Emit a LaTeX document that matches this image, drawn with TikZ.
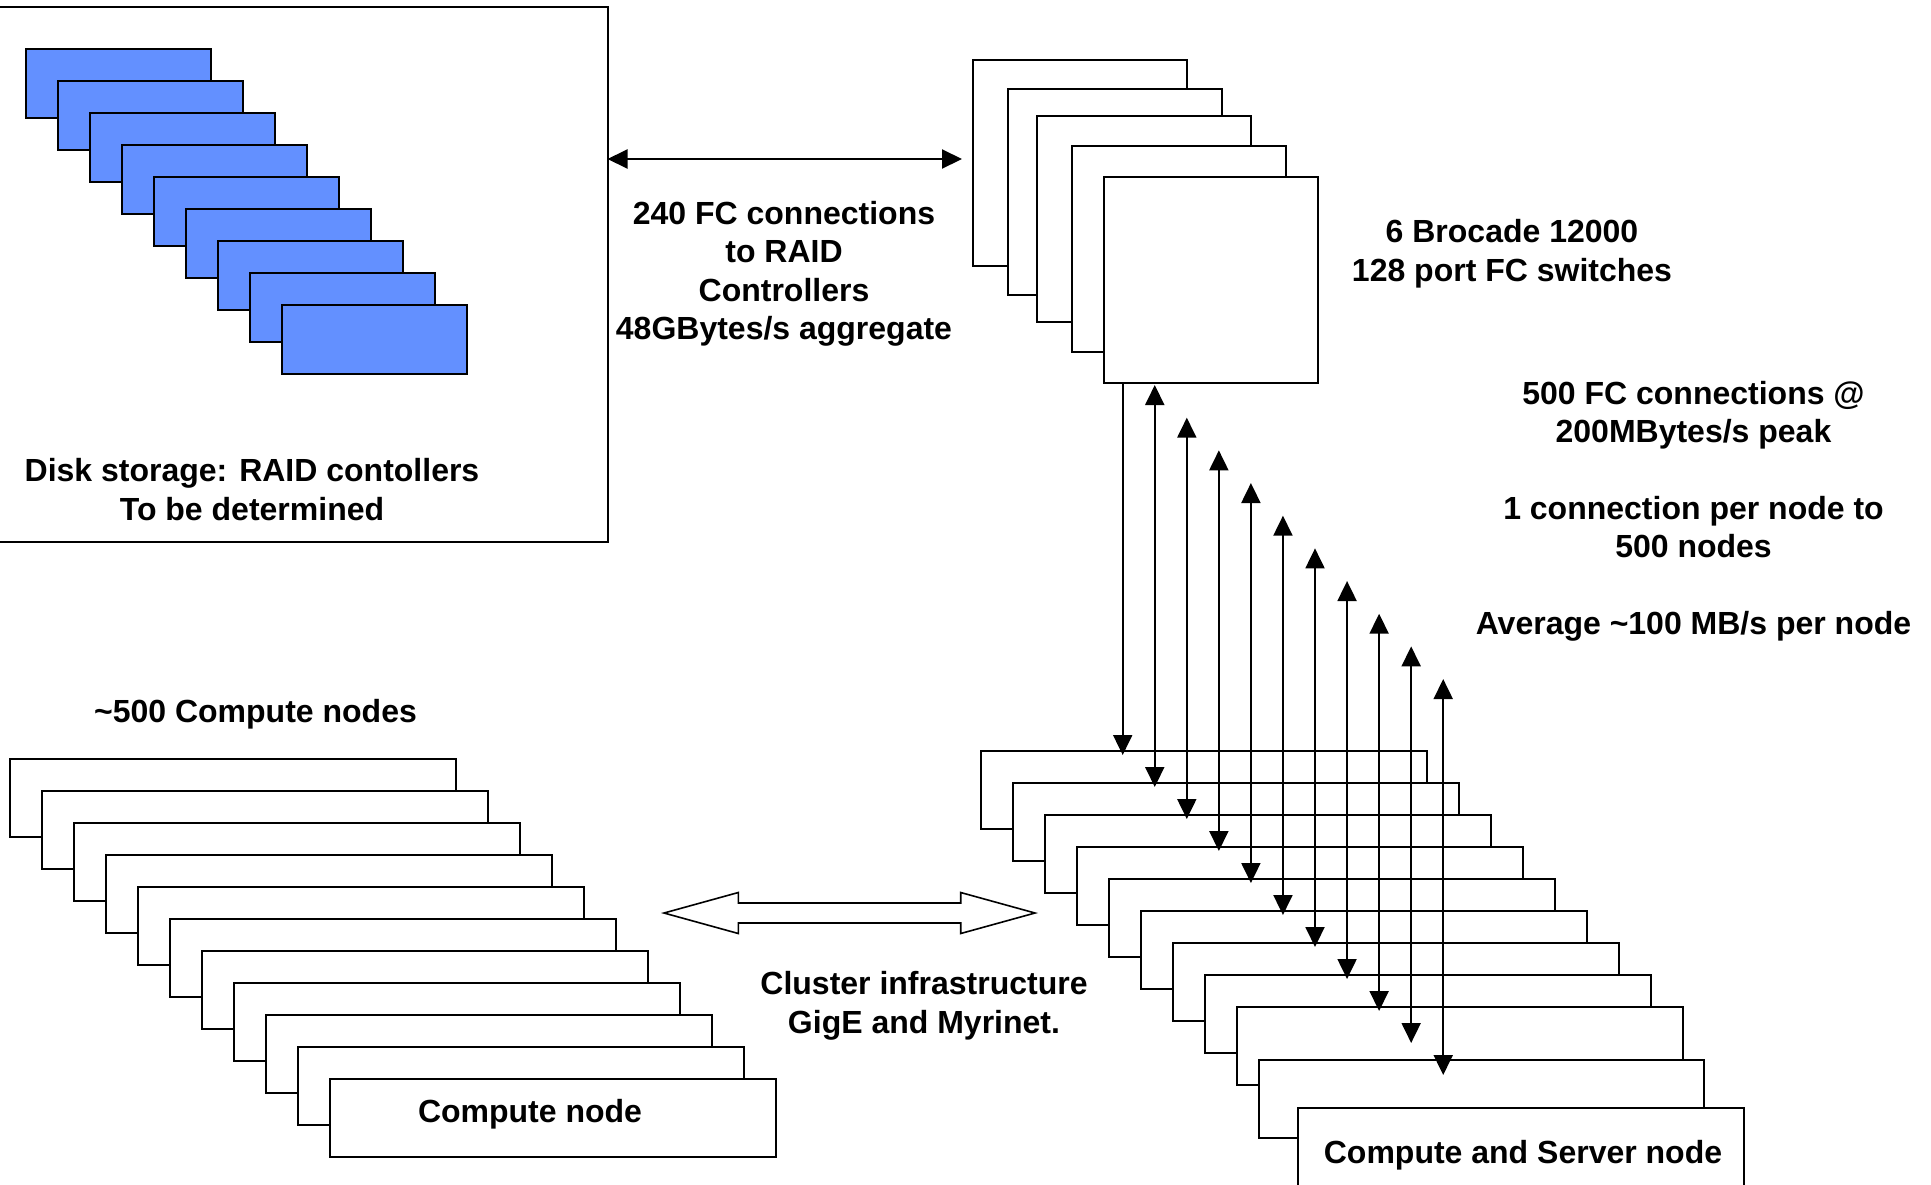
\documentclass[tikz,border=0pt]{standalone}
\usepackage{fontspec}
\setmainfont{Liberation Sans}
\usetikzlibrary{arrows.meta}
\definecolor{diskblue}{RGB}{99,144,255}
\begin{document}
\begin{tikzpicture}[x=0.5pt,y=-0.5pt,
  every node/.style={inner sep=0pt,outer sep=0pt},
  card/.style={draw=black,line width=1pt,fill=white,rectangle,anchor=north west},
  diskcard/.style={card,fill=diskblue,minimum width=92.3pt,minimum height=34.4pt},
  swcard/.style={card,minimum width=106.9pt,minimum height=102.9pt},
  nodecard/.style={card,minimum width=222.75pt,minimum height=38.9pt},
  txt/.style={font=\bfseries\fontsize{16pt}{19.2pt}\selectfont,align=center,anchor=base},
  fc/.style={line width=1pt,{Triangle[length=10pt,width=9.5pt]}-{Triangle[length=10pt,width=9.5pt]}},
  fcdown/.style={line width=1pt,-{Triangle[length=10pt,width=9.5pt]}},
]
\useasboundingbox (0,0) rectangle (1931,1184);
\fill[white] (0,0) rectangle (1931,1184);

% disk storage
\node[card,minimum width=304.75pt,minimum height=267.5pt] (disk) at (-2,7) {};
\foreach \i in {0,...,8}
  \node[diskcard] (b\i) at ({26.1+32*\i},{49.3+32*\i}) {};

% switches
\foreach \i/\x/\y in {1/973.3/60, 2/1008.3/89.3, 3/1037.3/116.3, 4/1072/145.7, 5/1104/177}
  \node[swcard] (sw\i) at (\x,\y) {};

% compute nodes
\foreach \i in {0,...,10}
  \node[nodecard] (c\i) at ({10.2+32*\i},{759+32*\i}) {};

% compute and server nodes
\foreach \i in {0,...,8}
  \node[nodecard] (s\i) at ({981.4+32*\i},{750.7+32*\i}) {};
\node[nodecard] (s9) at (1258.5,1060) {};
\node[nodecard] (s10) at (1298.3,1108.3) {};

% FC link disk <-> switches
\coordinate (fcR) at (962,159);
\draw[fc] (disk.east |- fcR) -- (fcR);

% FC links switches <-> nodes
\coordinate (u0) at (1122.7,382.7);
\coordinate (d0) at (1122.7,755);
\draw[fcdown] (u0) -- (d0);
\foreach \k in {1,...,10} {
  \coordinate (u\k) at ({1122.7+32.05*\k},{385+32.67*(\k-1)});
  \coordinate (d\k) at ({1122.7+32.05*\k},{755+32*\k});
  \draw[fc] (u\k) -- (d\k);
}

% cluster infrastructure block arrow
\draw[line width=0.8pt,fill=white] (664,913) -- (738.3,892.5) -- (738.3,903) -- (960.7,903)
  -- (960.7,892.5) -- (1035,913) -- (960.7,933.5) -- (960.7,923) -- (738.3,923)
  -- (738.3,933.5) -- cycle;

% texts (anchor = baseline of last line)
\node[txt] (disklbl) at (252,520) {Disk storage: RAID contollers\\To be determined};
\node[txt] (fclbl) at (784,339.5) {240 FC connections\\to RAID\\Controllers\\48GBytes/s aggregate};
\node[txt] (swlbl) at (1512,281) {6 Brocade 12000\\128 port FC switches};
\node[txt] (rate) at (1693.5,634.5) {500 FC connections @\\200MBytes/s peak\\[19.2pt]1 connection per node to\\500 nodes\\[19.2pt]Average \textasciitilde100 MB/s per node};
\node[txt] (cluster) at (924,1033) {Cluster infrastructure\\GigE and Myrinet.};
\node[txt] (cnum) at (255.5,722) {\textasciitilde500 Compute nodes};
\node[txt] (cn) at (530,1122) {Compute node};
\node[txt] (csn) at (1523,1163) {Compute and Server node};
\end{tikzpicture}
\end{document}
